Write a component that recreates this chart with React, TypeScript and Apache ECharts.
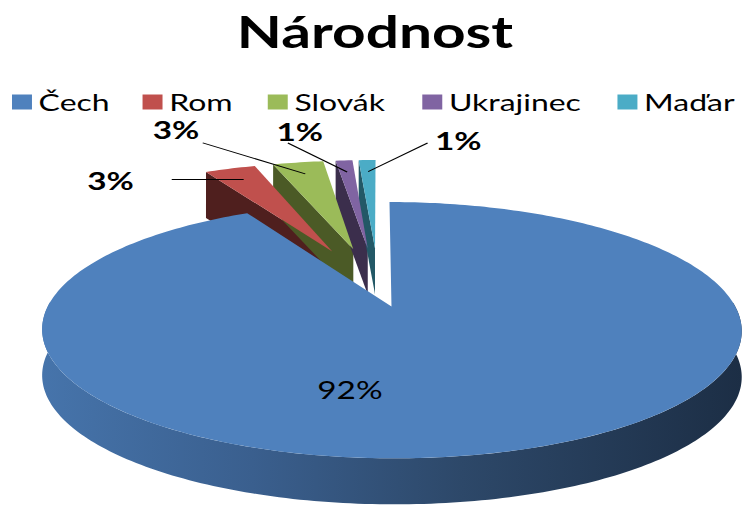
import React, { useEffect, useRef } from 'react';
import * as echarts from 'echarts';

const TITLE = 'Národnost';
const CATEGORIES = ['Čech', 'Rom', 'Slovák', 'Ukrajinec', 'Maďar'];
const VALUES = [92, 3, 3, 1, 1];

const COLORS = ['#4f81bd', '#c0504d', '#9bbb59', '#8064a2', '#4bacc6'];
const SIDE_COLORS = ['#2e4a6e', '#4f1f1e', '#4b5a26', '#3b2e4c', '#235866'];

// layout (drawn on a 563px wide canvas that is stretched to 750px)
const CW = 563;
const STRETCH = 750 / CW;
const CX = 284.25;
const CY = 289;
const RX = 251.3;
const RY = 117.4;
const PERSP = 0.18;
const DEPTH = 46;
const EXPLODE = [0.15, 0.37, 0.37, 0.37, 0.37];
const LEGEND_X = [9, 107, 201, 317, 463.5];
const LABEL_R = [0.6, 0.85, 0.85, 0.85, 0.85];
const LEADER: (number[] | null)[] = [null, [-54, 0], [-77, -31], [-44.5, -29], [44.6, -28.6]];
const LABEL_OFF = [[-75.5, 2], [-46, 1], [-20, -14], [9, -12], [23, -3]];

const proj = (X: number, Z: number): number[] => {
  const d = 1 + PERSP * Z;
  return [CX + (RX * X) / d, CY - (RY * Z) / d];
};

export default function App() {
  const ref = useRef<HTMLDivElement>(null);
  useEffect(() => {
    const chart = echarts.init(ref.current!, null, { renderer: 'svg' });
    const total = VALUES.reduce((a, b) => a + b, 0);
    const starts: number[] = [];
    let acc = 0;
    VALUES.forEach((v) => {
      starts.push((acc / total) * 360);
      acc += v;
    });

    const makeRender = (i: number) => (params: any, api: any) => {
      const v = api.value(0) as number;
      const a0 = starts[i];
      const a1 = a0 + (v / total) * 360;
      const mid = (((a0 + a1) / 2) * Math.PI) / 180;
      const e = EXPLODE[i];
      const ox = e * Math.sin(mid);
      const oz = e * Math.cos(mid);
      const pt = (deg: number, r = 1) => {
        const t = (deg * Math.PI) / 180;
        return proj(ox + r * Math.sin(t), oz + r * Math.cos(t));
      };
      const children: any[] = [];
      const n = Math.max(4, Math.ceil(a1 - a0));
      const top: number[][] = [pt(a0, 0)];
      for (let k = 0; k <= n; k++) top.push(pt(a0 + ((a1 - a0) * k) / n));

      if (i === 0) {
        const w0 = Math.max(a0, 88);
        const w1 = Math.min(a1, 272);
        if (w1 > w0) {
          const up: number[][] = [];
          const m = Math.ceil(w1 - w0);
          for (let k = 0; k <= m; k++) up.push(pt(w0 + ((w1 - w0) * k) / m));
          const low = up.map((p) => [p[0], p[1] + DEPTH]).reverse();
          children.push({
            type: 'polygon',
            z2: 3,
            shape: { points: up.concat(low) },
            style: {
              fill: new echarts.graphic.LinearGradient(0, 0, 1, 0, [
                { offset: 0, color: '#4674ab' },
                { offset: 0.3, color: '#3a5f8e' },
                { offset: 0.6, color: '#2d4869' },
                { offset: 1, color: '#1c2e45' },
              ]),
            },
          });
        }
      } else {
        const ap = pt(a0, 0);
        const rp = pt(a0, 1);
        children.push({
          type: 'polygon',
          z2: 1,
          shape: { points: [ap, rp, [rp[0], rp[1] + DEPTH], [ap[0], ap[1] + DEPTH]] },
          style: { fill: SIDE_COLORS[i] },
        });
      }
      children.push({
        type: 'polygon',
        z2: i === 0 ? 4 : 2,
        shape: { points: top },
        style: { fill: COLORS[i] },
      });

      const midDeg = (a0 + a1) / 2;
      const anchor = pt(midDeg, LABEL_R[i]);
      let base = anchor;
      const lead = LEADER[i];
      if (lead) {
        base = [anchor[0] + lead[0], anchor[1] + lead[1]];
        children.push({
          type: 'line',
          z2: 5,
          shape: { x1: base[0], y1: base[1], x2: anchor[0], y2: anchor[1] },
          style: { stroke: '#000', lineWidth: 1 },
        });
      }
      children.push({
        type: 'text',
        z2: 6,
        x: base[0] + LABEL_OFF[i][0],
        y: base[1] + LABEL_OFF[i][1],
        style: {
          text: Math.round((v / total) * 100) + '%',
          fill: '#000',
          fontSize: 25,
          fontFamily: 'Lato',
          fontWeight: i === 0 ? 'normal' : 'bold',
          align: 'center',
          verticalAlign: 'middle',
        },
      });
      return { type: 'group', children };
    };

    chart.setOption({
      animation: false,
      backgroundColor: '#fff',
      title: {
        text: TITLE,
        left: 'center',
        top: 4,
        textStyle: { fontFamily: 'Lato', fontWeight: 'bold', fontSize: 44, color: '#000' },
      },
      legend: CATEGORIES.map((c, i) => ({
        data: [c],
        left: LEGEND_X[i],
        top: 90,
        padding: 0,
        icon: 'rect',
        itemWidth: 15,
        itemHeight: 15,
        itemGap: 5,
        selectedMode: false,
        textStyle: { fontFamily: 'Lato', fontSize: 24, color: '#000', padding: [0, 0, 0, 0] },
      })),
      series: CATEGORIES.map((name, i) => ({
        type: 'custom',
        name,
        coordinateSystem: 'none',
        silent: true,
        itemStyle: { color: COLORS[i] },
        renderItem: makeRender(i),
        data: [[VALUES[i]]],
      })),
    });
    return () => chart.dispose();
  }, []);
  return (
    <div
      ref={ref}
      style={{
        position: 'fixed',
        left: 0,
        top: 0,
        width: CW,
        height: 515,
        transform: `scaleX(${STRETCH})`,
        transformOrigin: '0 0',
        background: '#fff',
      }}
    />
  );
}
